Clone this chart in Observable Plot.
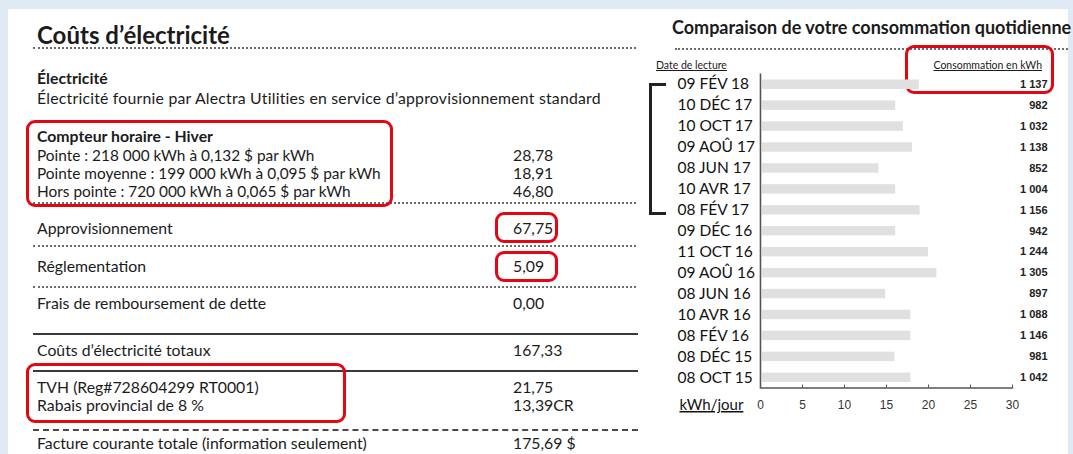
<!DOCTYPE html>
<html><head><meta charset="utf-8">
<script src="https://cdn.jsdelivr.net/npm/d3@7"></script>
<script src="https://cdn.jsdelivr.net/npm/@observablehq/plot@0.6"></script>
<style>
html,body{margin:0;padding:0;}
body{width:1073px;height:454px;overflow:hidden;background:#e0eaf5;position:relative;font-family:Lato,"Open Sans",sans-serif;color:#1b1b1b;}
#card{position:absolute;left:8px;top:9px;width:1060px;height:460px;background:#fff;}
.t{position:absolute;white-space:nowrap;line-height:18px;font-size:15.8px;}
.b{font-weight:bold;}
.dot{position:absolute;height:0;border-top:2px dotted #6a6a6a;}
.sol{position:absolute;height:0;border-top:2px solid #3a3a3a;}
.dash{position:absolute;height:0;border-top:2px dashed #4a4a4a;}
.red{position:absolute;box-sizing:border-box;border:3px solid #e30613;border-radius:9px;}
.u{text-decoration:underline;font-size:10.5px;}
#bracket{position:absolute;left:649px;top:83px;width:14px;height:126px;border-left:3px solid #222;border-top:3px solid #222;border-bottom:3px solid #222;}
#chart{position:absolute;left:640px;top:60px;}
g[aria-label="bar"] rect{filter:blur(0.6px);}
</style></head>
<body>
<div id="card"></div>
<div id="page"></div>
<div id="bracket"></div>
<div id="chart"></div>
<script>
// ---- bill content ----
const billTitle = "Coûts d’électricité";
const sectionTitle = "Électricité";
const sectionDesc = "Électricité fournie par Alectra Utilities en service d’approvisionnement standard";
const meterTitle = "Compteur horaire - Hiver";
const meterLabels = ["Pointe : 218 000 kWh à 0,132 $ par kWh","Pointe moyenne : 199 000 kWh à 0,095 $ par kWh","Hors pointe : 720 000 kWh à 0,065 $ par kWh"];
const meterAmounts = ["28,78","18,91","46,80"];
const chargeLabels = ["Approvisionnement","Réglementation","Frais de remboursement de dette","Coûts d’électricité totaux","TVH (Reg#728604299 RT0001)","Rabais provincial de 8 %","Facture courante totale (information seulement)"];
const chargeAmounts = ["67,75","5,09","0,00","167,33","21,75","13,39CR","175,69 $"];

// ---- chart data ----
const chartTitle = "Comparaison de votre consommation quotidienne";
const dateHeader = "Date de lecture";
const totalHeader = "Consommation en kWh";
const unitLabel = "kWh/jour";
const readDates = ["09 FÉV 18","10 DÉC 17","10 OCT 17","09 AOÛ 17","08 JUN 17","10 AVR 17","08 FÉV 17","09 DÉC 16","11 OCT 16","09 AOÛ 16","08 JUN 16","10 AVR 16","08 FÉV 16","08 DÉC 15","08 OCT 15"];
const kwhPerDay = [18.9,16.1,17.0,18.1,14.1,16.1,19.0,16.1,20.0,21.0,14.9,17.9,17.9,16.0,17.9];
const kwhTotal = [1137,982,1032,1138,852,1004,1156,942,1244,1305,897,1088,1146,981,1042];
const xTicks = [0,5,10,15,20,25,30];

// ---- page layout ----
const page = document.getElementById("page");
function add(cls, text, style){const d=document.createElement("div");d.className=cls;if(text!=null)d.textContent=text;Object.assign(d.style,style);page.appendChild(d);return d;}
add("t b", billTitle, {left:"37px", top:"20px", fontSize:"24px", lineHeight:"30px"});
add("dot", null, {left:"33px", top:"47px", width:"603px"});
add("t b", sectionTitle, {left:"37px", top:"69px"});
add("t", sectionDesc, {left:"37px", top:"89px", letterSpacing:"0.22px"});
add("t b", meterTitle, {left:"37px", top:"127px"});
const meterY=[155,173,191];
meterLabels.forEach((s,i)=>{add("t",s,{left:"37px",top:(meterY[i]-9)+"px",fontSize:"15.4px"});add("t",meterAmounts[i],{left:"513px",top:(meterY[i]-9)+"px"});});
const chargeY=[228,266,303,350,387,405,443];
chargeLabels.forEach((s,i)=>{add("t",s,{left:"37px",top:(chargeY[i]-9)+"px"});add("t",chargeAmounts[i],{left:"513px",top:(chargeY[i]-9)+"px"});});
add("dot", null, {left:"33px", top:"202px", width:"603px"});
add("dot", null, {left:"33px", top:"245px", width:"603px"});
add("dot", null, {left:"33px", top:"286px", width:"603px"});
add("sol", null, {left:"33px", top:"333px", width:"605px"});
add("sol", null, {left:"33px", top:"370px", width:"605px"});
add("dash", null, {left:"33px", top:"429px", width:"605px"});
add("red", null, {left:"26px", top:"120px", width:"367px", height:"87px"});
add("red", null, {left:"495px", top:"212px", width:"63px", height:"31px"});
add("red", null, {left:"495px", top:"251px", width:"63px", height:"31px"});
add("red", null, {left:"26px", top:"363px", width:"320px", height:"60px"});
// right header
add("t b", chartTitle, {left:"672px", top:"15px", fontSize:"18px", lineHeight:"24px"});
add("dot", null, {left:"675px", top:"48px", width:"393px"});
add("t u", dateHeader, {left:"656px", top:"56px"});
add("t u", totalHeader, {right:(1073-1042)+"px", top:"56px"});
add("red", null, {left:"905px", top:"45px", width:"149px", height:"49px"});

// ---- chart ----
const data = readDates.map((d,i)=>({date:d, v:kwhPerDay[i], total:kwhTotal[i]}));
const fmt = n => n>=1000 ? `${Math.floor(n/1000)} ${String(n%1000).padStart(3,"0")}` : String(n);
const chart = Plot.plot({
  width:433, height:360,
  marginLeft:120, marginRight:61, marginTop:13.5, marginBottom:32.5,
  style:{fontFamily:"'Liberation Sans',Arial,sans-serif", fontSize:"11px", color:"#222", background:"transparent"},
  x:{domain:[0,30]},
  y:{domain:readDates, padding:0, round:false},
  marks:[
    Plot.barX(data,{x:"v", y:"date", fill:"#e0e0e0", insetTop:6, insetBottom:5.5, insetLeft:2}),
    Plot.ruleX([0],{stroke:"#555", strokeWidth:1.6}),
    Plot.frame({anchor:"bottom", stroke:"#555", strokeWidth:1.6}),
    Plot.axisX({ticks:xTicks, tickSize:-3, tickPadding:15, stroke:"#555", label:null, fontSize:12, fill:"#333"}),
    Plot.axisY({tickSize:0, tickPadding:0, textAnchor:"start", dx:-83, label:null, fontSize:15.5, fontFamily:"Lato", fill:"#111"}),
    Plot.text(data,{y:"date", text:d=>fmt(d.total), frameAnchor:"right", textAnchor:"end", dx:35, fontSize:11, fontWeight:"bold", fill:"#222"}),
    Plot.text([unitLabel],{text:d=>d, frameAnchor:"bottom-left", textAnchor:"start", dx:-81, dy:22, fontSize:15, fontFamily:"Lato", fill:"#111"})
  ]
});
document.getElementById("chart").appendChild(chart);
d3.select(chart).selectAll("text").filter(function(){return this.textContent===unitLabel;}).style("text-decoration","underline");
</script>
</body></html>
